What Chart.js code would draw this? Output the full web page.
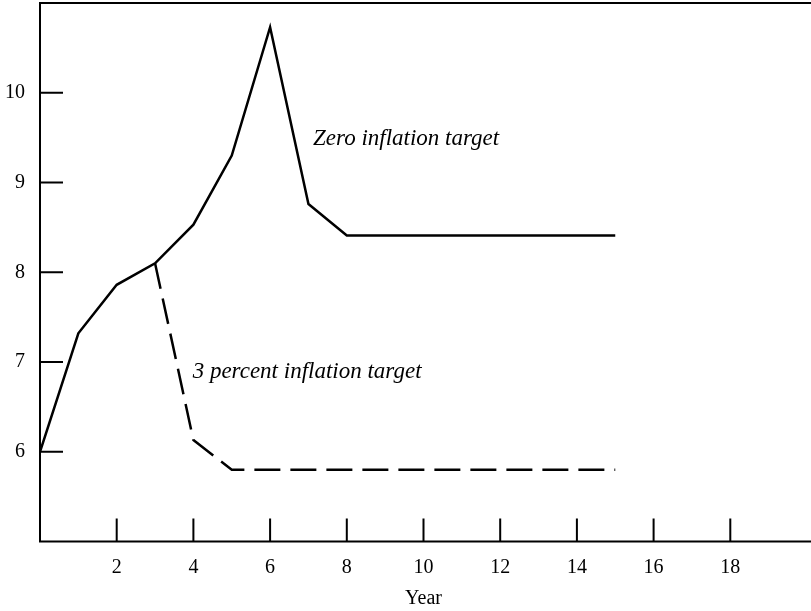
<!DOCTYPE html>
<html>
<head>
<meta charset="utf-8">
<script src="https://cdn.jsdelivr.net/npm/chart.js@4"></script>
<style>
  html, body { margin: 0; padding: 0; background: #fff; }
  #wrap { width: 811px; height: 611px; }
</style>
</head>
<body>
<div id="wrap"><canvas id="c" width="811" height="611"></canvas></div>
<script>
// ---- data ----
const zeroYears   = [0, 1, 2, 3, 4, 5, 6, 7, 8, 9, 10, 11, 12, 13, 14, 15];
const zeroValues  = [6.0, 7.32, 7.86, 8.10, 8.53, 9.30, 10.73, 8.76, 8.41, 8.41, 8.41, 8.41, 8.41, 8.41, 8.41, 8.41];
const threeYears  = [3, 4, 5, 6, 7, 8, 9, 10, 11, 12, 13, 14, 15];
const threeValues = [8.10, 6.13, 5.80, 5.80, 5.80, 5.80, 5.80, 5.80, 5.80, 5.80, 5.80, 5.80, 5.80];
const xTickValues = [2, 4, 6, 8, 10, 12, 14, 16, 18];
const yTickValues = [6, 7, 8, 9, 10];
const xTitle = 'Year';
const labelTexts = ['Zero inflation target', '3 percent inflation target'];
const labelYears = [7.12, 3.98];
const labelLevels = [9.42, 6.82];

const SERIF = '"Liberation Serif", "Times New Roman", serif';

const toPoints = (xs, ys) => xs.map((x, i) => ({ x: x, y: ys[i] }));

const framePlugin = {
  id: 'frame',
  afterDraw(chart) {
    const ctx = chart.ctx;
    const a = chart.chartArea;
    const xs = chart.scales.x, ys = chart.scales.y;
    ctx.save();
    ctx.strokeStyle = '#000';
    ctx.lineWidth = 2;
    ctx.lineCap = 'butt';
    // frame: left, top, bottom
    ctx.beginPath();
    ctx.moveTo(chart.width, a.top);
    ctx.lineTo(a.left, a.top);
    ctx.lineTo(a.left, a.bottom);
    ctx.lineTo(chart.width, a.bottom);
    ctx.stroke();
    // inward ticks
    const tl = 23;
    ctx.beginPath();
    ys.ticks.forEach(t => {
      const py = ys.getPixelForValue(t.value);
      ctx.moveTo(a.left, py);
      ctx.lineTo(a.left + tl, py);
    });
    xs.ticks.forEach(t => {
      const px = xs.getPixelForValue(t.value);
      ctx.moveTo(px, a.bottom);
      ctx.lineTo(px, a.bottom - tl);
    });
    ctx.stroke();
    // series labels
    ctx.fillStyle = '#000';
    ctx.font = 'italic 23px ' + SERIF;
    ctx.textAlign = 'left';
    ctx.textBaseline = 'alphabetic';
    labelTexts.forEach((txt, i) => {
      ctx.fillText(txt, xs.getPixelForValue(labelYears[i]), ys.getPixelForValue(labelLevels[i]));
    });
    ctx.restore();
  }
};

new Chart(document.getElementById('c'), {
  type: 'line',
  data: {
    datasets: [
      {
        label: labelTexts[0],
        data: toPoints(zeroYears, zeroValues),
        borderColor: '#000',
        borderWidth: 2.5,
        pointRadius: 0,
        tension: 0,
        fill: false
      },
      {
        label: labelTexts[1],
        data: toPoints(threeYears, threeValues),
        borderColor: '#000',
        borderWidth: 2.5,
        borderDash: [26, 10],
        pointRadius: 0,
        tension: 0,
        fill: false
      }
    ]
  },
  options: {
    responsive: false,
    animation: false,
    devicePixelRatio: 1,
    layout: { padding: { left: 0, top: 3, right: 4, bottom: 0 } },
    plugins: {
      legend: { display: false },
      tooltip: { enabled: false },
      title: { display: false }
    },
    scales: {
      x: {
        type: 'linear',
        position: 'bottom',
        min: 0,
        max: 20,
        afterBuildTicks: s => { s.ticks = xTickValues.map(v => ({ value: v })); },
        afterFit: s => { s.height = 69.5; s.paddingLeft = 0; s.paddingRight = 0; },
        grid: { display: false, drawTicks: false },
        border: { display: false },
        ticks: {
          color: '#000',
          padding: 14,
          maxRotation: 0,
          autoSkip: false,
          font: { family: SERIF, size: 20 }
        },
        title: {
          display: true,
          text: xTitle,
          color: '#000',
          padding: { top: 4, bottom: 0 },
          font: { family: SERIF, size: 20 }
        }
      },
      y: {
        type: 'linear',
        position: 'left',
        min: 5,
        max: 11,
        afterBuildTicks: s => { s.ticks = yTickValues.map(v => ({ value: v })); },
        afterFit: s => { s.width = 40; s.paddingTop = 0; s.paddingBottom = 0; },
        grid: { display: false, drawTicks: false },
        border: { display: false },
        ticks: {
          color: '#000',
          padding: 15,
          autoSkip: false,
          font: { family: SERIF, size: 20 }
        }
      }
    }
  },
  plugins: [framePlugin]
});
</script>
</body>
</html>
